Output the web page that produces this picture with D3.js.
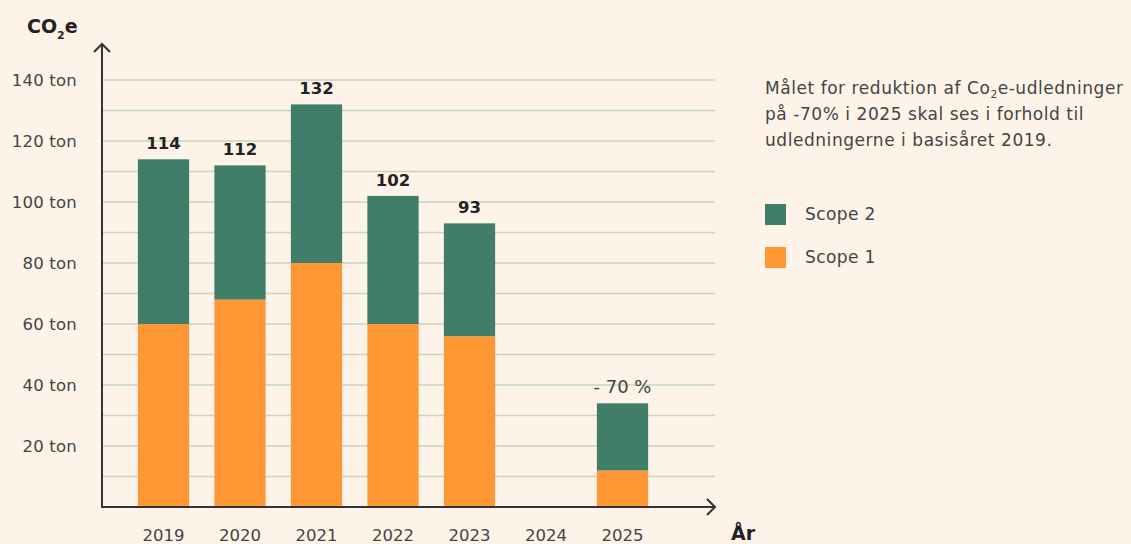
<!DOCTYPE html>
<html>
<head>
<meta charset="utf-8">
<script src="https://cdn.jsdelivr.net/npm/d3@7"></script>
<style>
  html, body { margin: 0; padding: 0; background: #fdf3e9; }
  svg { display: block; font-family: 'DejaVu Sans', sans-serif; }
</style>
</head>
<body>
<div id="chart"></div>
<script>
// data
const years = ['2019', '2020', '2021', '2022', '2023', '2024', '2025'];
const scope1 = [60, 68, 80, 60, 56, null, 12];
const scope2 = [54, 44, 52, 42, 37, null, 22];
const totalLabels = ['114', '112', '132', '102', '93', '', '- 70 %'];
const yTicks = [20, 40, 60, 80, 100, 120, 140];
const gridValues = d3.range(10, 141, 10);

const W = 1131, H = 544;
const green = '#407e69', orange = '#fe9734', ink = '#222', soft = '#444';

const svg = d3.select('#chart').append('svg')
  .attr('width', W)
  .attr('height', H);

svg.append('rect').attr('width', W).attr('height', H).attr('fill', '#fdf3e9');

const x = d3.scaleBand()
  .domain(years)
  .range([125.25, 660.75])
  .paddingInner(0.33)
  .paddingOuter(0.165);

const y = d3.scaleLinear()
  .domain([0, 140])
  .range([507, 80]);

const x0 = 102, xEnd = 715;

// gridlines
svg.append('g')
  .selectAll('line')
  .data(gridValues)
  .enter()
  .append('line')
  .attr('x1', x0)
  .attr('x2', xEnd)
  .attr('y1', d => y(d))
  .attr('y2', d => y(d))
  .attr('stroke', '#c7d6bd')
  .attr('stroke-width', 1.4);

// y tick labels
svg.append('g')
  .selectAll('text')
  .data(yTicks)
  .enter()
  .append('text')
  .attr('x', 77)
  .attr('y', d => y(d) + 6)
  .attr('text-anchor', 'end')
  .attr('font-size', 16.5)
  .attr('letter-spacing', 0.2)
  .attr('fill', soft)
  .text(d => d + ' ton');

// stacked bars
const rows = years.map((yr, i) => ({ year: yr, s1: scope1[i], s2: scope2[i], label: totalLabels[i] }))
  .filter(d => d.s1 != null);

const bars = svg.append('g');
bars.selectAll('.s1')
  .data(rows)
  .enter()
  .append('rect')
  .attr('class', 's1')
  .attr('x', d => x(d.year))
  .attr('y', d => y(d.s1))
  .attr('width', x.bandwidth())
  .attr('height', d => y(0) - y(d.s1))
  .attr('fill', orange);

bars.selectAll('.s2')
  .data(rows)
  .enter()
  .append('rect')
  .attr('class', 's2')
  .attr('x', d => x(d.year))
  .attr('y', d => y(d.s1 + d.s2))
  .attr('width', x.bandwidth())
  .attr('height', d => y(d.s1) - y(d.s1 + d.s2))
  .attr('fill', green);

// total labels
svg.append('g')
  .selectAll('text')
  .data(rows)
  .enter()
  .append('text')
  .attr('x', d => x(d.year) + x.bandwidth() / 2)
  .attr('y', d => y(d.s1 + d.s2) - 10)
  .attr('text-anchor', 'middle')
  .attr('font-size', d => d.year === '2025' ? 18 : 16.5)
  .attr('font-weight', d => d.year === '2025' ? 'normal' : 'bold')
  .attr('fill', d => d.year === '2025' ? soft : ink)
  .text(d => d.label);

// x labels
svg.append('g')
  .selectAll('text')
  .data(years)
  .enter()
  .append('text')
  .attr('x', d => x(d) + x.bandwidth() / 2)
  .attr('y', 541)
  .attr('text-anchor', 'middle')
  .attr('font-size', 16.5)
  .attr('fill', soft)
  .text(d => d);

// axes with arrows
const axis = svg.append('g').attr('stroke', '#333').attr('stroke-width', 2).attr('fill', 'none');
axis.append('line').attr('x1', x0).attr('x2', x0).attr('y1', 44).attr('y2', y(0) + 1);
axis.append('line').attr('x1', x0 - 1).attr('x2', xEnd).attr('y1', y(0)).attr('y2', y(0));
axis.append('path').attr('d', `M${x0 - 8},${52} L${x0},${44} L${x0 + 8},${52}`);
axis.append('path').attr('d', `M${xEnd - 8},${y(0) - 8} L${xEnd},${y(0)} L${xEnd - 8},${y(0) + 8}`);

// axis titles
const co2 = svg.append('text')
  .attr('x', 27)
  .attr('y', 33)
  .attr('font-size', 19)
  .attr('font-weight', 'bold')
  .attr('fill', ink);
co2.append('tspan').text('CO');
co2.append('tspan').attr('font-size', 11).attr('dy', 6).text('2');
co2.append('tspan').attr('dy', -6).text('e');

svg.append('text')
  .attr('x', 731)
  .attr('y', 540)
  .attr('font-size', 19)
  .attr('font-weight', 'bold')
  .attr('fill', ink)
  .text('År');

// note
const note = svg.append('text')
  .attr('font-size', 17)
  .attr('letter-spacing', 0.55)
  .attr('fill', soft);
const l1 = note.append('tspan').attr('x', 765).attr('y', 94);
l1.append('tspan').text('Målet for reduktion af Co');
l1.append('tspan').attr('font-size', 10.5).attr('dy', 4).text('2');
l1.append('tspan').attr('dy', -4).text('e-udledninger');
note.append('tspan').attr('x', 765).attr('y', 120).text('på -70% i 2025 skal ses i forhold til');
note.append('tspan').attr('x', 765).attr('y', 146).text('udledningerne i basisåret 2019.');

// legend
const legendItems = [
  { name: 'Scope 2', color: green },
  { name: 'Scope 1', color: orange }
];
const lg = svg.append('g').attr('transform', 'translate(765,204)');
lg.selectAll('rect')
  .data(legendItems)
  .enter()
  .append('rect')
  .attr('x', 0)
  .attr('y', (d, i) => i * 43)
  .attr('width', 21)
  .attr('height', 21)
  .attr('fill', d => d.color);
lg.selectAll('text')
  .data(legendItems)
  .enter()
  .append('text')
  .attr('x', 40)
  .attr('y', (d, i) => i * 43 + 16)
  .attr('font-size', 17)
  .attr('letter-spacing', 0.4)
  .attr('fill', soft)
  .text(d => d.name);
</script>
</body>
</html>
